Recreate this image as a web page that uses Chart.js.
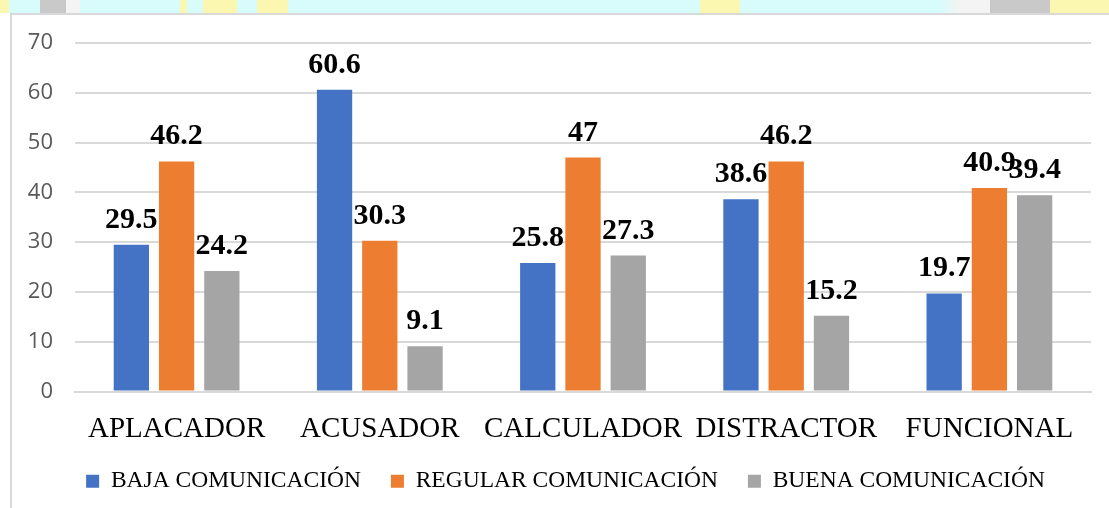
<!DOCTYPE html>
<html>
<head>
<meta charset="utf-8">
<script src="https://cdn.jsdelivr.net/npm/chart.js@4"></script>
<style>
  body { margin: 0; width: 1109px; height: 508px; overflow: hidden; background: #fff; position: relative; }
  #franja {
    position: absolute; left: 0; top: 0; width: 1109px; height: 13px;
    background: linear-gradient(to right,
      #fbf6b0 0px, #fbf6b0 9px, #d8fbfb 9px, #d8fbfb 40px, #c9c9c9 40px, #c9c9c9 66px,
      #f4f4f4 66px, #f4f4f4 80px, #d8fbfb 80px, #d8fbfb 180px, #fbf6b0 180px, #fbf6b0 187px,
      #d8fbfb 187px, #d8fbfb 203px, #fbf6b0 203px, #fbf6b0 237px, #d8fbfb 237px, #d8fbfb 257px,
      #fbf6b0 257px, #fbf6b0 288px, #d8fbfb 288px, #d8fbfb 700px, #fbf6b0 700px, #fbf6b0 740px,
      #d8fbfb 740px, #d8fbfb 940px, #f4f4f4 960px, #f4f4f4 990px, #c9c9c9 990px, #c9c9c9 1050px,
      #fbf6b0 1050px, #fbf6b0 1109px);
  }
  #marco {
    position: absolute; left: 10px; top: 13px; width: 1097px; height: 493px;
    border-left: 2px solid #d9d9d9; border-top: 2px solid #d9d9d9; background: #fff;
  }
</style>
</head>
<body>
<div id="franja"></div>
<div id="marco"><canvas id="grafica" width="1097" height="493"></canvas></div>
<script>
const categorias = ["APLACADOR", "ACUSADOR", "CALCULADOR", "DISTRACTOR", "FUNCIONAL"];
const baja = [29.5, 60.6, 25.8, 38.6, 19.7];
const regular = [46.2, 30.3, 47, 46.2, 40.9];
const buena = [24.2, 9.1, 27.3, 15.2, 39.4];
const ticksY = [0, 10, 20, 30, 40, 50, 60, 70];

const serif = "'Liberation Serif', 'Times New Roman', serif";

// etiquetas encima de cada barra
const etiquetas = {
    id: "etiquetas",
    afterLayout(chart) {
        // que los textos de los ejes no se recorten
        chart.scales.x.bottom = chart.height;
        chart.scales.y.left = 0;
    },
    afterDatasetsDraw(chart) {
        const ctx = chart.ctx;
        ctx.save();
        ctx.font = "bold 30px " + serif;
        ctx.fillStyle = "#000";
        ctx.textAlign = "center";
        ctx.textBaseline = "alphabetic";
        chart.data.datasets.forEach((ds, i) => {
            chart.getDatasetMeta(i).data.forEach((barra, j) => {
                ctx.fillText(String(ds.data[j]), barra.x, barra.y - 17);
            });
        });
        ctx.restore();
    }
};

new Chart(document.querySelector("#grafica"), {
    type: "bar",
    data: {
        labels: categorias,
        datasets: [
            { label: "BAJA COMUNICACIÓN", data: baja, backgroundColor: "#4472C4" },
            { label: "REGULAR COMUNICACIÓN", data: regular, backgroundColor: "#ED7D31" },
            { label: "BUENA COMUNICACIÓN", data: buena, backgroundColor: "#A5A5A5" }
        ]
    },
    options: {
        responsive: false,
        animation: false,
        layout: { padding: { top: 28, right: 18, bottom: 5, left: 28 } },
        datasets: { bar: { categoryPercentage: 0.668, barPercentage: 0.78 } },
        scales: {
            x: {
                grid: { display: false },
                border: { color: "#d9d9d9", width: 2 },
                ticks: { color: "#000", font: { family: serif, size: 29 }, padding: 12, maxRotation: 0 },
                afterFit: (s) => { s.height = 48; }
            },
            y: {
                min: 0, max: 70,
                afterBuildTicks: (s) => { s.ticks = ticksY.map(v => ({ value: v })); },
                grid: { color: "#d9d9d9", lineWidth: 2, drawTicks: false },
                border: { display: false },
                ticks: { color: "#595959", font: { family: "'Open Sans', sans-serif", size: 22 }, padding: 22 },
                afterFit: (s) => { s.width = 35; s.paddingTop = 0; s.paddingBottom = 0; }
            }
        },
        plugins: {
            legend: {
                position: "bottom",
                labels: {
                    color: "#000",
                    font: { family: serif, size: 23.5 },
                    boxWidth: 13, boxHeight: 13,
                    padding: 30
                }
            },
            tooltip: { enabled: false }
        }
    },
    plugins: [etiquetas]
});
</script>
</body>
</html>
